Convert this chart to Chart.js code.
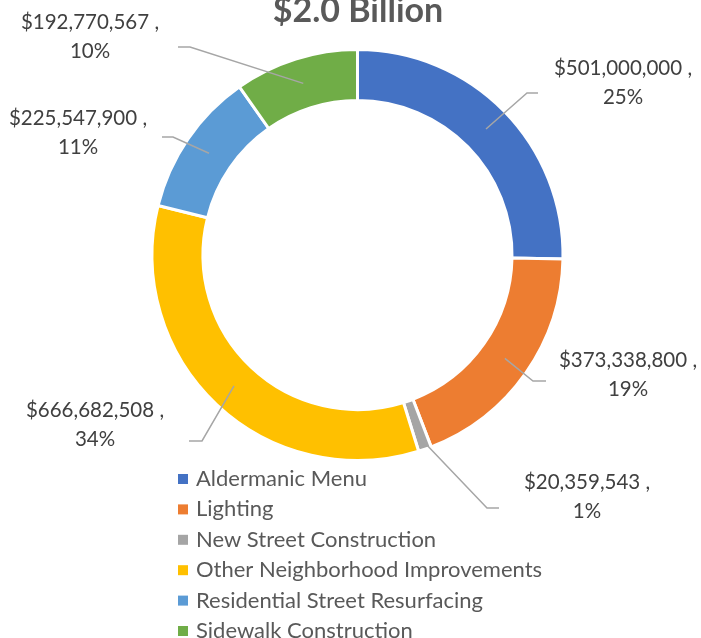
<!DOCTYPE html>
<html>
<head>
<meta charset="utf-8">
<script src="https://cdn.jsdelivr.net/npm/chart.js@4/dist/chart.umd.min.js"></script>
<style>
  html, body { margin: 0; padding: 0; background: #fff; }
  #wrap { width: 701px; height: 638px; position: relative; }
</style>
</head>
<body>
<div id="wrap"><canvas id="myChart" width="701" height="638"></canvas></div>
<script>
// data
const categories = ['Aldermanic Menu', 'Lighting', 'New Street Construction',
  'Other Neighborhood Improvements', 'Residential Street Resurfacing', 'Sidewalk Construction'];
const amounts = [501000000, 373338800, 20359543, 666682508, 225547900, 192770567];
const chartTitle = '$2.0 Billion';

const colors = ['#4472c4', '#ed7d31', '#a5a5a5', '#ffc000', '#5b9bd5', '#70ad47'];

// where each data label sits, relative to the doughnut centre (px)
// [start point inside ring 0..1, elbow x, elbow y, end x of the short horizontal, text x, text y]
const labelSpots = [
  [0.5, 169.5, -162, 180.5, 265.5, -187],
  [0.5, 175.5, 126, 188.5, 270.5, 105],
  [0.8, 129.5, 253, 141.5, 229.5, 227],
  [0.5, -155.5, 186, -168.5, -262.5, 155],
  [0.5, -184.5, -118, -195.5, -279.5, -137],
  [0.5, -167.5, -208, -179.5, -267.5, -233]
];

const total = amounts.reduce((a, b) => a + b, 0);

const extras = {
  id: 'extras',
  afterDraw(chart) {
    const ctx = chart.ctx;
    const arcs = chart.getDatasetMeta(0).data;
    ctx.save();

    // title, partly cut off at the top like the original
    ctx.fillStyle = '#595959';
    ctx.font = 'bold 34px Lato';
    ctx.textAlign = 'center';
    ctx.textBaseline = 'alphabetic';
    ctx.fillText(chartTitle, 358, 22);

    // leader lines + labels
    arcs.forEach((arc, i) => {
      const p = arc.getProps(['x', 'y', 'startAngle', 'endAngle', 'innerRadius', 'outerRadius'], true);
      const s = labelSpots[i];
      const mid = (p.startAngle + p.endAngle) / 2;
      const r = p.innerRadius + (p.outerRadius - p.innerRadius) * s[0];
      const x0 = p.x + Math.cos(mid) * r, y0 = p.y + Math.sin(mid) * r;
      ctx.strokeStyle = '#a6a6a6';
      ctx.lineWidth = 1.5;
      ctx.beginPath();
      ctx.moveTo(x0, y0);
      ctx.lineTo(p.x + s[1], p.y + s[2]);
      ctx.lineTo(p.x + s[3], p.y + s[2]);
      ctx.stroke();

      const pct = Math.round(amounts[i] / total * 100) + '%';
      const money = '$' + amounts[i].toLocaleString('en-US') + ' ,';
      ctx.fillStyle = '#404040';
      ctx.font = '20.5px Lato';
      ctx.textAlign = 'center';
      ctx.textBaseline = 'middle';
      ctx.fillText(money, p.x + s[4], p.y + s[5]);
      ctx.fillText(pct, p.x + s[4], p.y + s[5] + 29);
    });

    // legend as a single column under the ring
    ctx.font = '22px Lato';
    ctx.textAlign = 'left';
    ctx.textBaseline = 'middle';
    categories.forEach((c, i) => {
      const y = 479 + i * 30.4;
      ctx.fillStyle = colors[i];
      ctx.fillRect(178, y - 5, 10, 10);
      ctx.fillStyle = '#595959';
      ctx.fillText(c, 196, y);
    });
    ctx.restore();
  }
};

new Chart(document.getElementById('myChart'), {
  type: 'doughnut',
  data: {
    labels: categories,
    datasets: [{
      data: amounts,
      backgroundColor: colors,
      borderColor: '#ffffff',
      borderWidth: 3
    }]
  },
  options: {
    responsive: false,
    animation: false,
    radius: 205.5,
    cutout: '75.2%',
    layout: { padding: { left: 14, right: 0, top: 0, bottom: 128 } },
    plugins: {
      legend: { display: false },
      title: { display: false },
      tooltip: { enabled: false }
    }
  },
  plugins: [extras]
});
</script>
</body>
</html>
